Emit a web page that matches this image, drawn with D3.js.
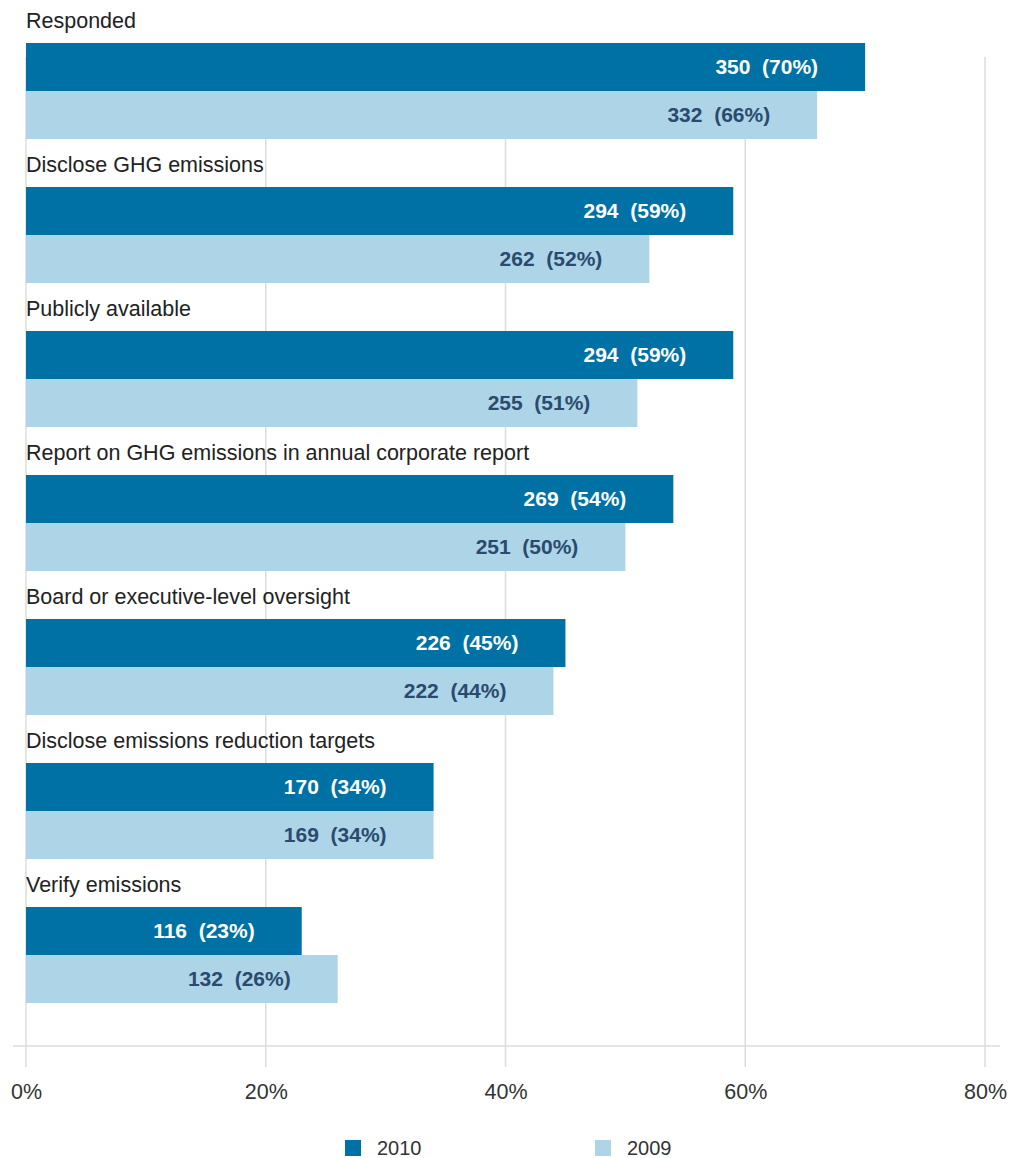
<!DOCTYPE html>
<html><head><meta charset="utf-8">
<script src="https://cdn.jsdelivr.net/npm/d3@7"></script>
<style>body{margin:0;background:#fff;} text{font-family:"Liberation Sans",Arial,sans-serif;}</style>
</head><body><svg id="c" width="1021" height="1158"></svg>
<script>
const categories = ["Responded","Disclose GHG emissions","Publicly available","Report on GHG emissions in annual corporate report","Board or executive-level oversight","Disclose emissions reduction targets","Verify emissions"];
const series = ["2010","2009"];
const counts2010 = [350,294,294,269,226,170,116];
const pct2010 = [70,59,59,54,45,34,23];
const counts2009 = [332,262,255,251,222,169,132];
const pct2009 = [66,52,51,50,44,34,26];
const tickValues = [0,20,40,60,80];
const tickLabels = ["0%","20%","40%","60%","80%"];

const colors = {"2010":"#0071a4","2009":"#add5e7"};
const labelColors = {"2010":"#ffffff","2009":"#2b4a6e"};

const svg = d3.select("#c");
const x = d3.scaleLinear().domain([0,80]).range([26,985]);
const y = d3.scaleBand().domain(categories).range([-5,1003]).paddingInner(0).paddingOuter(0);
const sub = d3.scaleBand().domain(["label"].concat(series)).range([0,y.bandwidth()]);

// gridlines
svg.append("g").selectAll("line").data(tickValues).join("line")
  .attr("x1",d=>x(d)).attr("x2",d=>x(d)).attr("y1",57).attr("y2",1067)
  .attr("stroke","#dcdcdc").attr("stroke-width",1.5);
svg.append("line").attr("x1",13).attr("x2",1000).attr("y1",1046).attr("y2",1046)
  .attr("stroke","#dcdcdc").attr("stroke-width",1.5);

const data = categories.map((c,i)=>({cat:c, vals:[
  {s:"2010",count:counts2010[i],pct:pct2010[i]},
  {s:"2009",count:counts2009[i],pct:pct2009[i]}]}));

const g = svg.append("g").selectAll("g").data(data).join("g")
  .attr("transform",d=>`translate(0,${y(d.cat)})`);
g.append("text").attr("x",26).attr("y",sub("label")+sub.bandwidth()/2+1)
  .attr("dy","0.35em").attr("font-size",21.5).attr("fill","#222").text(d=>d.cat);
g.selectAll("rect").data(d=>d.vals).join("rect")
  .attr("x",x(0)).attr("y",d=>sub(d.s)).attr("width",d=>x(d.pct)-x(0))
  .attr("height",sub.bandwidth()).attr("fill",d=>colors[d.s]);
g.selectAll("text.v").data(d=>d.vals).join("text").attr("class","v")
  .attr("x",d=>x(d.pct)-47).attr("y",d=>sub(d.s)+sub.bandwidth()/2).attr("dy","0.35em")
  .attr("text-anchor","end").attr("font-size",21).attr("font-weight","bold")
  .attr("fill",d=>labelColors[d.s]).style("white-space","pre")
  .text(d=>`${d.count}  (${d.pct}%)`);

// axis labels
const axis = d3.axisBottom(x).tickValues(tickValues).tickFormat((d,i)=>tickLabels[i]).tickSize(0).tickPadding(0);
const ag = svg.append("g").attr("transform","translate(0,1084)").call(axis);
ag.select(".domain").remove();
ag.selectAll("text").attr("font-size",21.5).attr("fill","#333").attr("font-family","Liberation Sans, Arial, sans-serif");

// legend
const lg = svg.append("g").selectAll("g").data(series).join("g")
  .attr("transform",(d,i)=>`translate(${[345,595][i]},1140)`);
lg.append("rect").attr("width",16).attr("height",16).attr("fill",d=>colors[d]);
lg.append("text").attr("x",32).attr("y",8).attr("dy","0.35em").attr("font-size",20).attr("fill","#333").text(d=>d);
</script></body></html>
